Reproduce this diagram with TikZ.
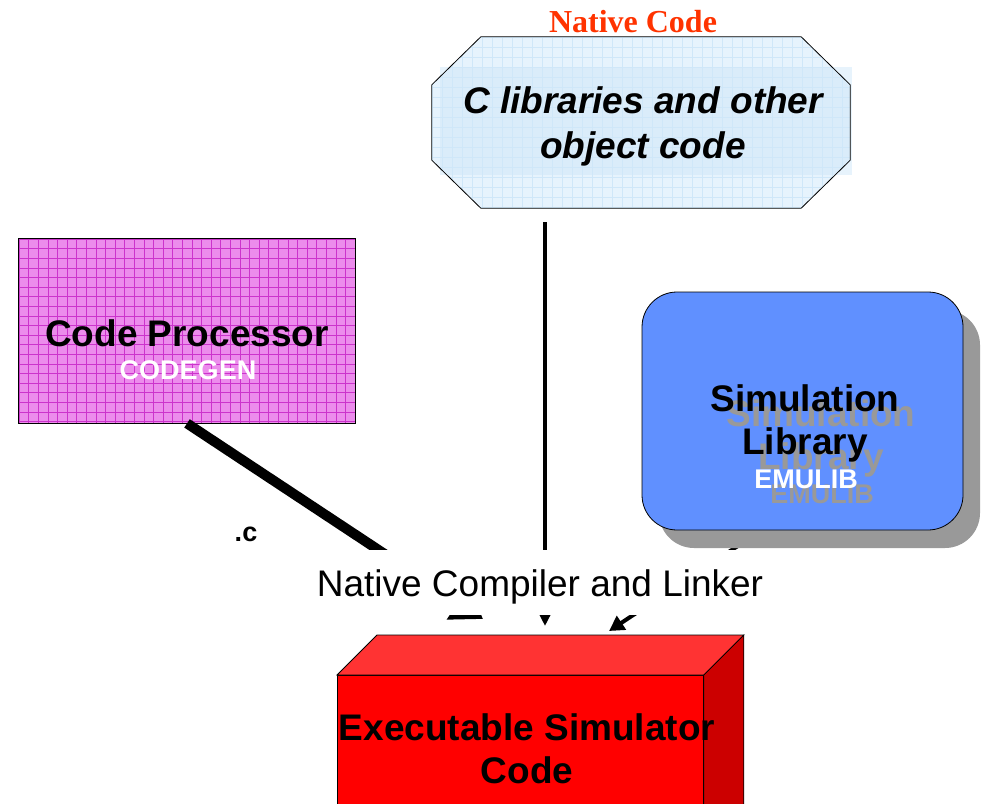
\documentclass[tikz,border=0pt]{standalone}
\usepackage{fontspec}
\setmainfont{Liberation Sans}
\newfontfamily\timesfont{Liberation Serif}
\usetikzlibrary{positioning,arrows.meta,calc}
\definecolor{nativered}{HTML}{FF3300}
\definecolor{libblue}{HTML}{E6F3FD}
\definecolor{libgrid}{HTML}{CFE7F9}
\definecolor{procpink}{HTML}{EC8CEC}
\definecolor{procgrid}{HTML}{CC33CC}
\definecolor{simblue}{HTML}{6090FF}
\definecolor{simshadow}{HTML}{999999}
\definecolor{exefront}{HTML}{FF0000}
\definecolor{exetop}{HTML}{FF3333}
\definecolor{exeside}{HTML}{CC0000}

\begin{document}
\begin{tikzpicture}[x=1pt,y=-1pt,
  every node/.style={align=center,inner sep=0pt},
  big/.style={font=\fontsize{37}{43}\selectfont\bfseries},
  small/.style={font=\fontsize{27}{30}\selectfont\bfseries},
  arr/.style={-{Triangle[length=14pt,width=13pt]},line width=4pt},
  fatarr/.style={-{Triangle[length=30pt,width=39pt]},line width=10pt},
]
\useasboundingbox (0,0) rectangle (981,803);

% object code octagon
\node[minimum width=418pt,minimum height=171pt] (clib) at (641,122.5) {};
\begin{scope}
  \clip ($(clib.north west)+(49,0)$) -- ($(clib.north east)+(-49,0)$)
    -- ($(clib.north east)+(0,48)$) -- ($(clib.south east)+(0,-48)$)
    -- ($(clib.south east)+(-49,0)$) -- ($(clib.south west)+(49,0)$)
    -- ($(clib.south west)+(0,-48)$) -- ($(clib.north west)+(0,48)$) -- cycle;
  \fill[libblue] (clib.north west) rectangle (clib.south east);
  \foreach \gx in {432,442,...,852} \draw[libgrid] (\gx,37) -- (\gx,208);
  \foreach \gy in {37,47,...,208} \draw[libgrid] (432,\gy) -- (850,\gy);
\end{scope}
\fill[libgrid,opacity=0.5] (440,67) rectangle (852,175);
\draw[thick] ($(clib.north west)+(49,0)$) -- ($(clib.north east)+(-49,0)$)
  -- ($(clib.north east)+(0,48)$) -- ($(clib.south east)+(0,-48)$)
  -- ($(clib.south east)+(-49,0)$) -- ($(clib.south west)+(49,0)$)
  -- ($(clib.south west)+(0,-48)$) -- ($(clib.north west)+(0,48)$) -- cycle;
\node[font=\fontsize{37}{45}\selectfont\bfseries\itshape] (clibtxt) at (643,126) {C libraries and other\\object code};
\node[font=\timesfont\fontsize{32}{34}\selectfont\bfseries,text=nativered] (native) at (633,22) {Native Code};

% code processor
\node[draw,thick,fill=procpink,minimum width=336pt,minimum height=184pt] (proc) at (187,331) {};
\begin{scope}
  \clip (proc.north west) rectangle (proc.south east);
  \foreach \gx in {19,28.6,...,356} \draw[procgrid] (\gx,239) -- (\gx,423);
  \foreach \gy in {239,248.6,...,424} \draw[procgrid] (19,\gy) -- (355,\gy);
\end{scope}
\draw[thick] (proc.north west) rectangle (proc.south east);
\node[big] (proctxt) at (187,333) {Code Processor};
\node[small,text=white] (procsub) at (188,370) {CODEGEN};
\node[font=\fontsize{27}{30}\selectfont\bfseries] (ext) at (246,534) {.c};

% executable box
\node[draw,thick,fill=exefront,minimum width=366pt,minimum height=185pt,anchor=north west] (exe) at (337,675) {};
\filldraw[fill=exetop,thick] (exe.north west) -- ++(40,-40) -- ($(exe.north east)+(40,-40)$) -- (exe.north east) -- cycle;
\filldraw[fill=exeside,thick] (exe.north east) -- ++(40,-40) -- ($(exe.south east)+(40,-40)$) -- (exe.south east) -- cycle;
\node[big] (exetxt) at (527,749) {Executable Simulator\\Code};

% connectors
\coordinate (libout) at (545,222);
\coordinate (libin) at (545,626);
\coordinate (procin) at (483,619);
\coordinate (simout) at (762,530);
\coordinate (simin) at (609,631);
\draw[arr] (libout) -- (libin);
\draw[fatarr] (proc.south) -- (procin);
\draw[-{Triangle[length=15pt,width=16pt]},line width=4pt] (simout) -- (simin);

% simulation library
\fill[simshadow,rounded corners=35pt] (659,310) rectangle (980,548);
\node[draw,thick,fill=simblue,rounded corners=35pt,minimum width=321pt,minimum height=238pt] (sim) at (802.5,411) {};
\node[big,text=simshadow] (simshd) at (821,438) {Simulation\\Library};
\node[small,text=simshadow] (simsubshd) at (822,494) {EMULIB};
\node[big] (simtxt) at (805,423) {Simulation\\Library};
\node[small,text=white] (simsub) at (806,479) {EMULIB};

% compiler label
\node[fill=white,minimum width=480pt,minimum height=65pt,text height=34pt,text depth=6pt,font=\fontsize{37}{40}\selectfont] (link) at (540,582.5) {Native Compiler and Linker};
\end{tikzpicture}
\end{document}
